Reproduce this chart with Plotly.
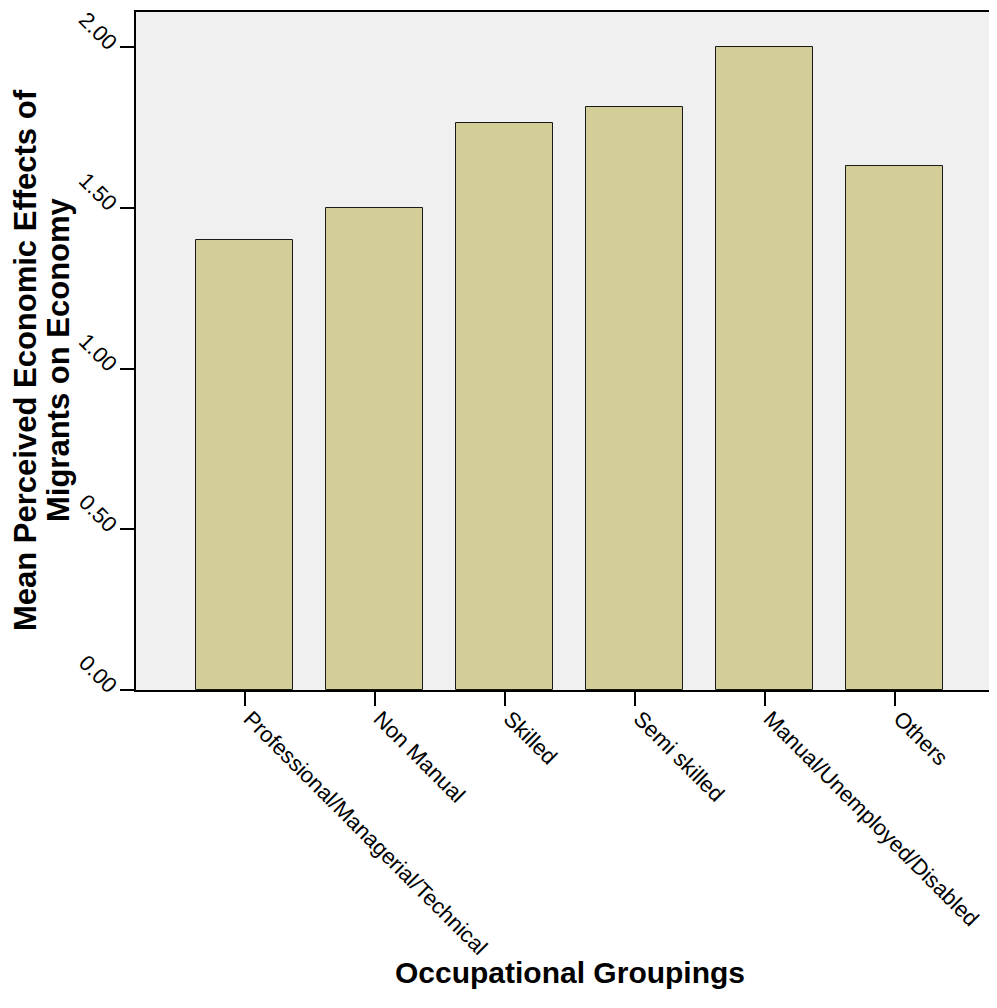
import plotly.graph_objects as go

categories = ["Professional/Managerial/Technical", "Non Manual", "Skilled",
              "Semi skilled", "Manual/Unemployed/Disabled", "Others"]
means = [1.40, 1.50, 1.765, 1.815, 2.00, 1.63]
y_ticks = [0.0, 0.5, 1.0, 1.5, 2.0]
y_tick_labels = ["0.00", "0.50", "1.00", "1.50", "2.00"]

x_pos = list(range(len(categories)))

fig = go.Figure()
fig.add_trace(go.Bar(
    x=x_pos, y=means, width=0.746,
    marker=dict(color="#d3ce98", line=dict(color="#1a1a1a", width=1)),
    hoverinfo="skip",
))

font_family = "Liberation Sans, Arial, sans-serif"
# page has an 8px body margin; compensate so the plot lands where the reference has it
fig.update_layout(
    width=989, height=1000,
    margin=dict(l=128, r=0, t=4, b=318),
    paper_bgcolor="white", plot_bgcolor="#f0f0f0",
    showlegend=False,
    font=dict(family=font_family, color="black"),
    bargap=0,
)
fig.update_xaxes(
    range=[-0.838, 5.785],
    tickmode="array", tickvals=x_pos, ticktext=categories,
    tickangle=45, ticks="outside", ticklen=14, tickwidth=2, tickcolor="black",
    tickfont=dict(size=22, family=font_family, color="black"),
    ticklabeloverflow="allow", ticklabelshift=5, ticklabelstandoff=-9,
    showline=True, linecolor="black", linewidth=2, mirror=True,
    showgrid=False, zeroline=False, automargin=False,
)
fig.update_yaxes(
    range=[0, 2.109],
    tickmode="array", tickvals=y_ticks, ticktext=y_tick_labels,
    tickangle=45, ticks="outside", ticklen=14, tickwidth=2, tickcolor="black",
    tickfont=dict(size=22, family=font_family, color="black"),
    ticklabeloverflow="allow",
    showline=True, linecolor="black", linewidth=2,
    showgrid=False, zeroline=False, automargin=False,
)
fig.add_annotation(
    text="<b>Occupational Groupings</b>", xref="paper", yref="paper",
    x=(570 - 136) / 861, y=0, yshift=-282, showarrow=False,
    font=dict(size=30, family=font_family, color="black"),
    xanchor="center", yanchor="middle",
)
fig.add_annotation(
    text="<b>Mean Perceived Economic Effects of</b>",
    xref="paper", yref="paper", x=0, xshift=-(136 - 25), y=0.5, yshift=-9,
    showarrow=False, textangle=-90,
    font=dict(size=31, family=font_family, color="black"),
    xanchor="center", yanchor="middle",
)
fig.add_annotation(
    text="<b>Migrants on Economy</b>",
    xref="paper", yref="paper", x=0, xshift=-(136 - 58), y=0.5, yshift=-9,
    showarrow=False, textangle=-90,
    font=dict(size=31, family=font_family, color="black"),
    xanchor="center", yanchor="middle",
)
fig.write_html("out.html")
